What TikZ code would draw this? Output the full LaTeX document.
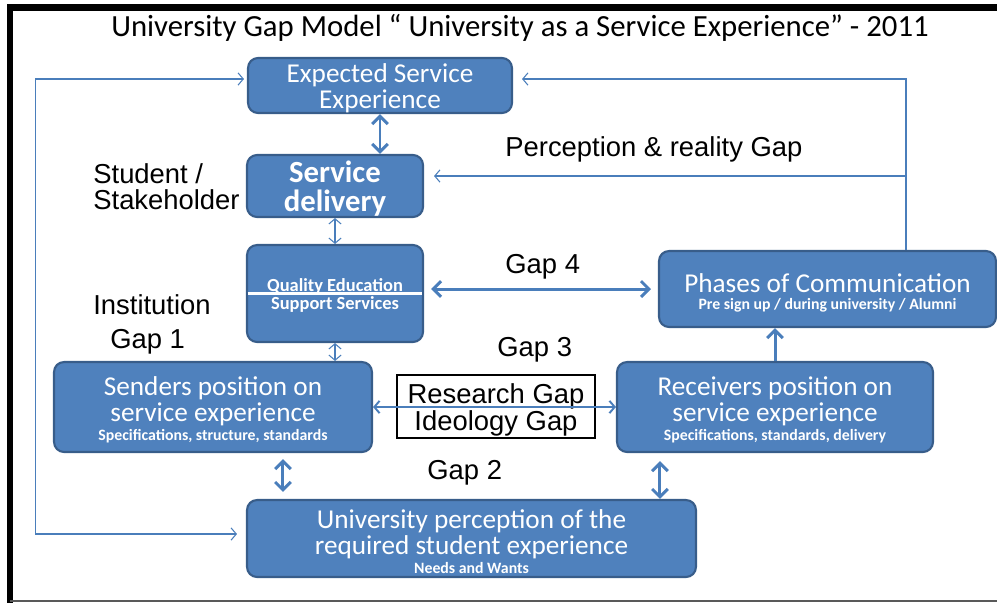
\documentclass[tikz,border=0pt]{standalone}
\usepackage{fontspec}
\setmainfont{Liberation Sans}
\newfontfamily\calib{Carlito}
\usepackage{xcolor}
\usepackage{tikz}
\usetikzlibrary{positioning}
\usetikzlibrary{arrows.meta}

\definecolor{boxblue}{HTML}{4F81BD}
\definecolor{boxedge}{HTML}{385D8A}
\definecolor{linkblue}{HTML}{4A7EBB}
\newcommand{\boxsub}[1]{{\fontsize{9}{10}\selectfont\bfseries\spaceskip=\fontdimen2\font\relax #1}}
\newcommand{\topgap}[1][0.9em]{\spaceskip=\fontdimen2\font\relax\rule{0pt}{#1}}

\begin{document}
\begin{tikzpicture}[x=0.02cm,y=-0.02cm]
    \tikzset{Stage/.style={rectangle, rounded corners=0.2cm, draw=boxedge, line width=1.2pt, fill=boxblue, text=white, align=center, inner sep=0pt, font=\calib\fontsize{15.5}{14.8}\selectfont}};
    \tikzset{Label/.style={inner sep=0pt, anchor=west, align=left, font=\fontsize{15.6}{14.7}\selectfont}};
    \tikzset{Thick/.style={<->, >={Straight Barb[length=4.5pt,width=9pt]}, line width=1.7pt, draw=linkblue}};
    \tikzset{Thin/.style={<->, >={Straight Barb[length=3pt,width=7pt]}, line width=0.6pt, draw=linkblue}};
    \useasboundingbox (0,0) rectangle (997,603);
    \draw[line width=4pt] (997,7.5) -- (10,7.5);
    \draw[line width=3.4pt] (10,4) -- (10,603);
    \draw[gray!70!black, line width=1.2pt] (10,601) -- (997,601);

    \node[Label, anchor=center, font=\calib\fontsize{17.5}{20}\selectfont] (title) at (520,28) {University Gap Model “ University as a Service Experience” - 2011};

    \node[Stage, text width=5.28cm, minimum height=1.1cm] (exp) at (380,85.5) {\topgap Expected Service\\Experience};
    \node[Stage, text width=3.52cm, minimum height=1.24cm, font=\calib\bfseries\fontsize{17.5}{16.5}\selectfont] (sd) at (335,186) {\topgap Service\\delivery};
    \node[Stage, text width=3.52cm, minimum height=1.94cm, font=\calib\bfseries\fontsize{10.5}{9}\selectfont] (qual) at (335,293.5) {\topgap Quality Education\\Support Services};
    \draw[white, line width=1.2pt] ([xshift=1pt]qual.west) -- ([xshift=-1pt]qual.east);
    \node[Stage, text width=6.74cm, minimum height=1.52cm] (phases) at (827.5,289) {\topgap[1.0em]Phases of Communication\\[-5pt]\boxsub{Pre sign up / during university / Alumni}};
    \node[Stage, text width=6.36cm, minimum height=1.8cm] (send) at (213,407) {\topgap Senders position on\\service experience\\[-4pt]\boxsub{Specifications, structure, standards}};
    \node[Stage, text width=6.32cm, minimum height=1.8cm] (recv) at (775,407) {\topgap Receivers position on\\service experience\\[-4pt]\boxsub{Specifications, standards, delivery}};
    \node[Stage, text width=8.98cm, minimum height=1.54cm] (univ) at (471.5,538.5) {\topgap University perception of the\\required student experience\\[-4pt]\boxsub{Needs and Wants}};
    \node[draw=black, line width=1.5pt, fill=white, minimum width=3.96cm, minimum height=1.26cm, align=center, inner sep=0pt, font=\fontsize{15.6}{15.3}\selectfont] (gapbox) at (496,406.5) {\topgap[15pt]Research Gap\\Ideology Gap};

    \node[Label] (percgap) at (505,149) {Perception \& reality Gap};
    \node[Label] (student) at (93,187) {Student /\\Stakeholder};
    \node[Label] (inst) at (93,305) {Institution};
    \node[Label] (gap1) at (110,342) {Gap 1};
    \node[Label] (gap4) at (505,267) {Gap 4};
    \node[Label] (gap3) at (497,350) {Gap 3};
    \node[Label] (gap2) at (427,473) {Gap 2};
    \coordinate (branch) at (906,176);

    \draw[Thick] (exp.south) -- (sd.north -| exp.south);
    \draw[Thin] (sd.south) -- (qual.north);
    \draw[Thin] (qual.south) -- (qual.south |- send.north);
    \draw[Thick, shorten <=0.14cm, shorten >=0.14cm] (qual.east |- phases.west) -- (phases.west);
    \draw[Thin, line width=1.1pt] (send.east) -- (recv.west);
    \draw[Thick, shorten <=0.12cm, shorten >=0.14cm] ([xshift=1.4cm]send.south) -- ([xshift=1.4cm]send.south |- univ.north);
    \draw[Thick, shorten >=0.16cm] ([xshift=3.77cm]univ.north) -- ([xshift=3.77cm]univ.north |- recv.south);
    \draw[Thick, <-] (phases.south -| recv.north) -- (recv.north);
    \draw[Thin, ->, shorten >=0.18cm] ([xshift=1.57cm]phases.north) |- ([yshift=0.13cm]exp.east);
    \draw[Thin, ->, shorten >=0.2cm] (branch) -- (branch -| sd.east);
    \draw[Thin, shorten <=0.06cm, shorten >=0.18cm] ([yshift=0.13cm]exp.west) -- ++(-211,0) |- ([yshift=0.09cm]univ.west);
\end{tikzpicture}
\end{document}
